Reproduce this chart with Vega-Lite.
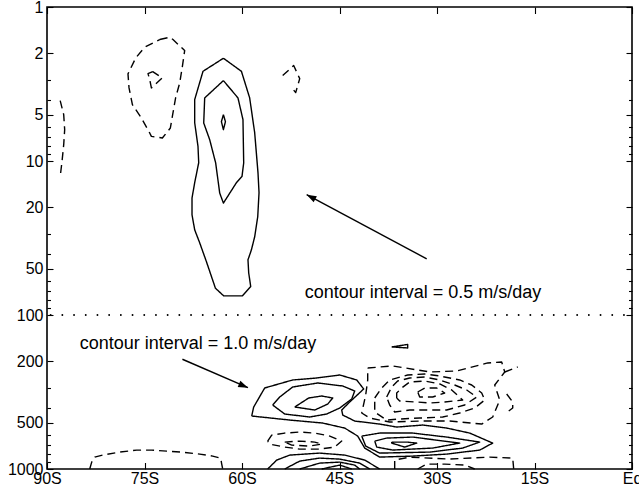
{
 "$schema": "https://vega.github.io/schema/vega-lite/v6.json",
 "width": 585, "height": 462,
 "autosize": {"type": "none"},
 "padding": {"left": 47, "top": 7, "right": 7, "bottom": 25},
 "background": "white",
 "config": {
  "view": {"stroke": "black", "strokeWidth": 1.6},
  "axis": {"grid": false, "domain": false, "tickColor": "black", "tickWidth": 1.1, "labelColor": "black", "labelFont": "Liberation Sans", "labelFontSize": 16}
 },
 "datasets": {
  "contours": [
   {"c":"A","s":"pos","i":0,"lat":-62.86,"p":2.152},{"c":"A","s":"pos","i":1,"lat":-60.09,"p":2.615},{"c":"A","s":"pos","i":2,"lat":-58.82,"p":3.894},{"c":"A","s":"pos","i":3,"lat":-58.05,"p":6.546},{"c":"A","s":"pos","i":4,"lat":-57.54,"p":11.91},{"c":"A","s":"pos","i":5,"lat":-57.38,"p":16.07},{"c":"A","s":"pos","i":6,"lat":-57.58,"p":23.03},{"c":"A","s":"pos","i":7,"lat":-58.05,"p":31.06},{"c":"A","s":"pos","i":8,"lat":-58.55,"p":37.73},{"c":"A","s":"pos","i":9,"lat":-59.08,"p":43.83},{"c":"A","s":"pos","i":10,"lat":-58.97,"p":53.24},{"c":"A","s":"pos","i":11,"lat":-58.66,"p":65.36},{"c":"A","s":"pos","i":12,"lat":-59.94,"p":75.12},{"c":"A","s":"pos","i":13,"lat":-62.82,"p":75.12},{"c":"A","s":"pos","i":14,"lat":-64.09,"p":66.95},{"c":"A","s":"pos","i":15,"lat":-65.48,"p":44.96},{"c":"A","s":"pos","i":16,"lat":-66.51,"p":33.98},{"c":"A","s":"pos","i":17,"lat":-67.28,"p":27.97},{"c":"A","s":"pos","i":18,"lat":-67.69,"p":22.35},{"c":"A","s":"pos","i":19,"lat":-67.69,"p":17.4},{"c":"A","s":"pos","i":20,"lat":-67.28,"p":13.84},{"c":"A","s":"pos","i":21,"lat":-66.66,"p":10.26},{"c":"A","s":"pos","i":22,"lat":-66.77,"p":8.038},{"c":"A","s":"pos","i":23,"lat":-67.28,"p":5.638},{"c":"A","s":"pos","i":24,"lat":-67.28,"p":3.995},{"c":"A","s":"pos","i":25,"lat":-66.0,"p":2.615},{"c":"A","s":"pos","i":26,"lat":-62.86,"p":2.152},
   {"c":"B","s":"pos","i":0,"lat":-62.86,"p":3.006},{"c":"B","s":"pos","i":1,"lat":-60.62,"p":3.894},{"c":"B","s":"pos","i":2,"lat":-59.85,"p":5.389},{"c":"B","s":"pos","i":3,"lat":-59.74,"p":10.3},{"c":"B","s":"pos","i":4,"lat":-60.0,"p":12.6},{"c":"B","s":"pos","i":5,"lat":-60.86,"p":13.84},{"c":"B","s":"pos","i":6,"lat":-62.86,"p":18.76},{"c":"B","s":"pos","i":7,"lat":-63.43,"p":16.15},{"c":"B","s":"pos","i":8,"lat":-64.05,"p":10.3},{"c":"B","s":"pos","i":9,"lat":-64.97,"p":7.27},{"c":"B","s":"pos","i":10,"lat":-65.89,"p":5.663},{"c":"B","s":"pos","i":11,"lat":-65.74,"p":3.894},{"c":"B","s":"pos","i":12,"lat":-62.86,"p":3.006},
   {"c":"C","s":"pos","i":0,"lat":-62.86,"p":5.0},{"c":"C","s":"pos","i":1,"lat":-62.55,"p":5.554},{"c":"C","s":"pos","i":2,"lat":-62.86,"p":6.259},{"c":"C","s":"pos","i":3,"lat":-63.17,"p":5.554},{"c":"C","s":"pos","i":4,"lat":-62.86,"p":5.0},
   {"c":"D","s":"neg","i":0,"lat":-72.66,"p":1.627},{"c":"D","s":"neg","i":1,"lat":-71.12,"p":1.571},{"c":"D","s":"neg","i":2,"lat":-70.62,"p":1.627},{"c":"D","s":"neg","i":3,"lat":-68.82,"p":1.918},{"c":"D","s":"neg","i":4,"lat":-69.17,"p":2.427},{"c":"D","s":"neg","i":5,"lat":-69.58,"p":3.111},{"c":"D","s":"neg","i":6,"lat":-70.2,"p":3.86},{"c":"D","s":"neg","i":7,"lat":-70.62,"p":4.874},{"c":"D","s":"neg","i":8,"lat":-71.02,"p":6.103},{"c":"D","s":"neg","i":9,"lat":-72.25,"p":7.088},{"c":"D","s":"neg","i":10,"lat":-73.94,"p":6.92},{"c":"D","s":"neg","i":11,"lat":-74.2,"p":6.575},{"c":"D","s":"neg","i":12,"lat":-75.48,"p":5.254},{"c":"D","s":"neg","i":13,"lat":-76.86,"p":4.305},{"c":"D","s":"neg","i":14,"lat":-77.38,"p":3.353},{"c":"D","s":"neg","i":15,"lat":-77.54,"p":2.719},{"c":"D","s":"neg","i":16,"lat":-76.35,"p":2.14},{"c":"D","s":"neg","i":17,"lat":-74.97,"p":1.825},{"c":"D","s":"neg","i":18,"lat":-72.66,"p":1.627},
   {"c":"D2","s":"neg","i":0,"lat":-73.74,"p":2.627},{"c":"D2","s":"neg","i":1,"lat":-74.46,"p":2.706},{"c":"D2","s":"neg","i":2,"lat":-74.2,"p":2.961},{"c":"D2","s":"neg","i":3,"lat":-73.94,"p":3.353},{"c":"D2","s":"neg","i":4,"lat":-73.12,"p":3.12},{"c":"D2","s":"neg","i":5,"lat":-72.25,"p":2.886},{"c":"D2","s":"neg","i":6,"lat":-73.74,"p":2.627},
   {"c":"E","s":"neg","i":0,"lat":-53.74,"p":2.789},{"c":"E","s":"neg","i":1,"lat":-52.05,"p":2.401},{"c":"E","s":"neg","i":2,"lat":-51.12,"p":2.917},{"c":"E","s":"neg","i":3,"lat":-51.74,"p":3.597},{"c":"E","s":"neg","i":4,"lat":-52.35,"p":3.338},
   {"c":"F","s":"neg","i":0,"lat":-87.97,"p":4.055},{"c":"F","s":"neg","i":1,"lat":-87.43,"p":5.0},{"c":"F","s":"neg","i":2,"lat":-87.28,"p":6.259},{"c":"F","s":"neg","i":3,"lat":-87.43,"p":7.836},{"c":"F","s":"neg","i":4,"lat":-87.66,"p":9.806},{"c":"F","s":"neg","i":5,"lat":-87.97,"p":12.65},
   {"c":"G1","s":"pos","i":0,"lat":-58.51,"p":452.9},{"c":"G1","s":"pos","i":1,"lat":-58.2,"p":395.8},{"c":"G1","s":"pos","i":2,"lat":-56.51,"p":297.8},{"c":"G1","s":"pos","i":3,"lat":-52.2,"p":264.2},{"c":"G1","s":"pos","i":4,"lat":-48.51,"p":256.5},{"c":"G1","s":"pos","i":5,"lat":-44.97,"p":245.2},{"c":"G1","s":"pos","i":6,"lat":-42.35,"p":264.2},{"c":"G1","s":"pos","i":7,"lat":-41.28,"p":302.3},{"c":"G1","s":"pos","i":8,"lat":-43.43,"p":367.3},{"c":"G1","s":"pos","i":9,"lat":-44.66,"p":414.0},{"c":"G1","s":"pos","i":10,"lat":-44.5,"p":446.2},{"c":"G1","s":"pos","i":11,"lat":-42.66,"p":488.2},{"c":"G1","s":"pos","i":12,"lat":-38.82,"p":510.7},{"c":"G1","s":"pos","i":13,"lat":-36.2,"p":534.2},{"c":"G1","s":"pos","i":14,"lat":-32.2,"p":518.4},{"c":"G1","s":"pos","i":15,"lat":-28.51,"p":542.2},{"c":"G1","s":"pos","i":16,"lat":-24.97,"p":584.4},{"c":"G1","s":"pos","i":17,"lat":-21.43,"p":678.7},{"c":"G1","s":"pos","i":18,"lat":-23.43,"p":753.6},{"c":"G1","s":"pos","i":19,"lat":-28.51,"p":800.2},{"c":"G1","s":"pos","i":20,"lat":-33.74,"p":824.5},{"c":"G1","s":"pos","i":21,"lat":-38.82,"p":836.9},{"c":"G1","s":"pos","i":22,"lat":-41.12,"p":731.4},{"c":"G1","s":"pos","i":23,"lat":-42.2,"p":611.2},{"c":"G1","s":"pos","i":24,"lat":-44.2,"p":542.2},{"c":"G1","s":"pos","i":25,"lat":-47.58,"p":503.1},{"c":"G1","s":"pos","i":26,"lat":-52.66,"p":481.0},{"c":"G1","s":"pos","i":27,"lat":-58.51,"p":452.9},
   {"c":"G2","s":"pos","i":0,"lat":-55.28,"p":384.2},{"c":"G2","s":"pos","i":1,"lat":-54.2,"p":340.8},{"c":"G2","s":"pos","i":2,"lat":-52.2,"p":293.4},{"c":"G2","s":"pos","i":3,"lat":-48.35,"p":276.4},{"c":"G2","s":"pos","i":4,"lat":-44.5,"p":289.1},{"c":"G2","s":"pos","i":5,"lat":-42.66,"p":311.5},{"c":"G2","s":"pos","i":6,"lat":-43.12,"p":351.1},{"c":"G2","s":"pos","i":7,"lat":-44.97,"p":401.8},{"c":"G2","s":"pos","i":8,"lat":-46.97,"p":439.5},{"c":"G2","s":"pos","i":9,"lat":-49.58,"p":459.7},{"c":"G2","s":"pos","i":10,"lat":-53.43,"p":439.5},{"c":"G2","s":"pos","i":11,"lat":-55.28,"p":384.2},
   {"c":"G3","s":"pos","i":0,"lat":-51.89,"p":395.8},{"c":"G3","s":"pos","i":1,"lat":-49.74,"p":345.9},{"c":"G3","s":"pos","i":2,"lat":-47.74,"p":335.7},{"c":"G3","s":"pos","i":3,"lat":-46.04,"p":345.9},{"c":"G3","s":"pos","i":4,"lat":-46.81,"p":378.5},{"c":"G3","s":"pos","i":5,"lat":-48.81,"p":414.0},{"c":"G3","s":"pos","i":6,"lat":-51.89,"p":395.8},
   {"c":"H2","s":"pos","i":0,"lat":-41.58,"p":611.2},{"c":"H2","s":"pos","i":1,"lat":-38.82,"p":584.4},{"c":"H2","s":"pos","i":2,"lat":-33.74,"p":584.4},{"c":"H2","s":"pos","i":3,"lat":-28.51,"p":620.5},{"c":"H2","s":"pos","i":4,"lat":-23.43,"p":668.6},{"c":"H2","s":"pos","i":5,"lat":-26.05,"p":731.4},{"c":"H2","s":"pos","i":6,"lat":-31.12,"p":776.6},{"c":"H2","s":"pos","i":7,"lat":-38.82,"p":788.3},{"c":"H2","s":"pos","i":8,"lat":-40.97,"p":709.8},{"c":"H2","s":"pos","i":9,"lat":-41.58,"p":611.2},
   {"c":"H3","s":"pos","i":0,"lat":-39.58,"p":658.7},{"c":"H3","s":"pos","i":1,"lat":-37.74,"p":629.9},{"c":"H3","s":"pos","i":2,"lat":-33.74,"p":620.5},{"c":"H3","s":"pos","i":3,"lat":-26.51,"p":678.7},{"c":"H3","s":"pos","i":4,"lat":-30.66,"p":731.4},{"c":"H3","s":"pos","i":5,"lat":-36.81,"p":753.6},{"c":"H3","s":"pos","i":6,"lat":-39.27,"p":720.6},{"c":"H3","s":"pos","i":7,"lat":-39.58,"p":658.7},
   {"c":"H4","s":"pos","i":0,"lat":-36.97,"p":668.6},{"c":"H4","s":"pos","i":1,"lat":-34.66,"p":668.6},{"c":"H4","s":"pos","i":2,"lat":-33.12,"p":678.7},{"c":"H4","s":"pos","i":3,"lat":-34.97,"p":720.6},{"c":"H4","s":"pos","i":4,"lat":-36.97,"p":678.7},{"c":"H4","s":"pos","i":5,"lat":-36.97,"p":668.6},
   {"c":"S1","s":"pos","i":0,"lat":-56.05,"p":1000},{"c":"S1","s":"pos","i":1,"lat":-54.66,"p":875.3},{"c":"S1","s":"pos","i":2,"lat":-52.66,"p":812.3},{"c":"S1","s":"pos","i":3,"lat":-48.05,"p":788.3},{"c":"S1","s":"pos","i":4,"lat":-44.2,"p":812.3},{"c":"S1","s":"pos","i":5,"lat":-41.12,"p":875.3},{"c":"S1","s":"pos","i":6,"lat":-38.82,"p":1000},
   {"c":"S2","s":"pos","i":0,"lat":-53.43,"p":1000},{"c":"S2","s":"pos","i":1,"lat":-51.12,"p":888.6},{"c":"S2","s":"pos","i":2,"lat":-48.05,"p":849.6},{"c":"S2","s":"pos","i":3,"lat":-44.97,"p":862.4},{"c":"S2","s":"pos","i":4,"lat":-41.89,"p":915.6},{"c":"S2","s":"pos","i":5,"lat":-40.35,"p":1000},
   {"c":"S3","s":"pos","i":0,"lat":-51.12,"p":1000},{"c":"S3","s":"pos","i":1,"lat":-48.05,"p":915.6},{"c":"S3","s":"pos","i":2,"lat":-44.97,"p":902.0},{"c":"S3","s":"pos","i":3,"lat":-42.66,"p":943.4},{"c":"S3","s":"pos","i":4,"lat":-41.89,"p":1000},
   {"c":"S4","s":"pos","i":0,"lat":-47.74,"p":1000},{"c":"S4","s":"pos","i":1,"lat":-44.97,"p":943.4},{"c":"S4","s":"pos","i":2,"lat":-43.12,"p":1000},
   {"c":"T","s":"pos","i":0,"lat":-36.97,"p":161.2},{"c":"T","s":"pos","i":1,"lat":-34.51,"p":155.3},{"c":"T","s":"pos","i":2,"lat":-34.51,"p":163.7},{"c":"T","s":"pos","i":3,"lat":-36.97,"p":161.2},
   {"c":"N1","s":"neg","i":0,"lat":-56.05,"p":658.7},{"c":"N1","s":"neg","i":1,"lat":-55.43,"p":602.2},{"c":"N1","s":"neg","i":2,"lat":-53.43,"p":584.4},{"c":"N1","s":"neg","i":3,"lat":-51.12,"p":575.7},{"c":"N1","s":"neg","i":4,"lat":-48.81,"p":584.4},{"c":"N1","s":"neg","i":5,"lat":-46.5,"p":611.2},{"c":"N1","s":"neg","i":6,"lat":-44.66,"p":658.7},{"c":"N1","s":"neg","i":7,"lat":-45.74,"p":720.6},{"c":"N1","s":"neg","i":8,"lat":-48.05,"p":742.5},{"c":"N1","s":"neg","i":9,"lat":-51.12,"p":742.5},{"c":"N1","s":"neg","i":10,"lat":-53.43,"p":720.6},{"c":"N1","s":"neg","i":11,"lat":-55.74,"p":688.9},{"c":"N1","s":"neg","i":12,"lat":-56.05,"p":658.7},
   {"c":"N1b","s":"neg","i":0,"lat":-53.43,"p":668.6},{"c":"N1b","s":"neg","i":1,"lat":-51.12,"p":658.7},{"c":"N1b","s":"neg","i":2,"lat":-48.81,"p":668.6},{"c":"N1b","s":"neg","i":3,"lat":-47.74,"p":688.9},{"c":"N1b","s":"neg","i":4,"lat":-49.58,"p":709.8},{"c":"N1b","s":"neg","i":5,"lat":-52.35,"p":699.3},{"c":"N1b","s":"neg","i":6,"lat":-53.43,"p":668.6},
   {"c":"N2a","s":"neg","i":0,"lat":-40.66,"p":220.8},{"c":"N2a","s":"neg","i":1,"lat":-36.81,"p":214.2},{"c":"N2a","s":"neg","i":2,"lat":-31.12,"p":234.4},{"c":"N2a","s":"neg","i":3,"lat":-26.97,"p":230.9},{"c":"N2a","s":"neg","i":4,"lat":-22.2,"p":204.8},{"c":"N2a","s":"neg","i":5,"lat":-20.05,"p":201.8},{"c":"N2a","s":"neg","i":6,"lat":-19.58,"p":234.4},{"c":"N2a","s":"neg","i":7,"lat":-21.12,"p":284.8},{"c":"N2a","s":"neg","i":8,"lat":-20.35,"p":356.5},{"c":"N2a","s":"neg","i":9,"lat":-21.43,"p":459.7},{"c":"N2a","s":"neg","i":10,"lat":-23.12,"p":510.7},{"c":"N2a","s":"neg","i":11,"lat":-28.05,"p":488.2},{"c":"N2a","s":"neg","i":12,"lat":-32.66,"p":488.2},{"c":"N2a","s":"neg","i":13,"lat":-37.28,"p":495.6},{"c":"N2a","s":"neg","i":14,"lat":-40.35,"p":466.7},{"c":"N2a","s":"neg","i":15,"lat":-41.58,"p":433.0},{"c":"N2a","s":"neg","i":16,"lat":-40.97,"p":330.7},{"c":"N2a","s":"neg","i":17,"lat":-40.66,"p":264.2},{"c":"N2a","s":"neg","i":18,"lat":-40.66,"p":220.8},
   {"c":"N2x","s":"neg","i":0,"lat":-19.58,"p":234.4},{"c":"N2x","s":"neg","i":1,"lat":-17.58,"p":217.5},
   {"c":"N2y","s":"neg","i":0,"lat":-19.28,"p":325.8},{"c":"N2y","s":"neg","i":1,"lat":-18.35,"p":367.3},{"c":"N2y","s":"neg","i":2,"lat":-18.35,"p":401.8},{"c":"N2y","s":"neg","i":3,"lat":-18.97,"p":420.2},
   {"c":"N2b","s":"neg","i":0,"lat":-39.58,"p":345.9},{"c":"N2b","s":"neg","i":1,"lat":-38.51,"p":297.8},{"c":"N2b","s":"neg","i":2,"lat":-37.28,"p":264.2},{"c":"N2b","s":"neg","i":3,"lat":-34.51,"p":245.2},{"c":"N2b","s":"neg","i":4,"lat":-31.89,"p":241.6},{"c":"N2b","s":"neg","i":5,"lat":-29.58,"p":248.9},{"c":"N2b","s":"neg","i":6,"lat":-26.51,"p":264.2},{"c":"N2b","s":"neg","i":7,"lat":-24.66,"p":284.8},{"c":"N2b","s":"neg","i":8,"lat":-23.12,"p":321.0},{"c":"N2b","s":"neg","i":9,"lat":-22.66,"p":356.5},{"c":"N2b","s":"neg","i":10,"lat":-24.2,"p":401.8},{"c":"N2b","s":"neg","i":11,"lat":-26.51,"p":433.0},{"c":"N2b","s":"neg","i":12,"lat":-29.12,"p":459.7},{"c":"N2b","s":"neg","i":13,"lat":-32.66,"p":466.7},{"c":"N2b","s":"neg","i":14,"lat":-35.74,"p":473.7},{"c":"N2b","s":"neg","i":15,"lat":-37.74,"p":481.0},{"c":"N2b","s":"neg","i":16,"lat":-39.58,"p":426.6},{"c":"N2b","s":"neg","i":17,"lat":-39.58,"p":345.9},
   {"c":"N2c","s":"neg","i":0,"lat":-37.74,"p":340.8},{"c":"N2c","s":"neg","i":1,"lat":-36.97,"p":293.4},{"c":"N2c","s":"neg","i":2,"lat":-36.05,"p":268.2},{"c":"N2c","s":"neg","i":3,"lat":-34.2,"p":256.5},{"c":"N2c","s":"neg","i":4,"lat":-31.89,"p":252.7},{"c":"N2c","s":"neg","i":5,"lat":-29.58,"p":264.2},{"c":"N2c","s":"neg","i":6,"lat":-27.28,"p":284.8},{"c":"N2c","s":"neg","i":7,"lat":-25.43,"p":306.9},{"c":"N2c","s":"neg","i":8,"lat":-23.89,"p":340.8},{"c":"N2c","s":"neg","i":9,"lat":-25.74,"p":384.2},{"c":"N2c","s":"neg","i":10,"lat":-28.51,"p":414.0},{"c":"N2c","s":"neg","i":11,"lat":-31.58,"p":414.0},{"c":"N2c","s":"neg","i":12,"lat":-34.2,"p":414.0},{"c":"N2c","s":"neg","i":13,"lat":-36.51,"p":426.6},{"c":"N2c","s":"neg","i":14,"lat":-37.28,"p":384.2},{"c":"N2c","s":"neg","i":15,"lat":-37.74,"p":340.8},
   {"c":"N2d","s":"neg","i":0,"lat":-36.2,"p":345.9},{"c":"N2d","s":"neg","i":1,"lat":-36.2,"p":321.0},{"c":"N2d","s":"neg","i":2,"lat":-35.43,"p":297.8},{"c":"N2d","s":"neg","i":3,"lat":-34.2,"p":272.3},{"c":"N2d","s":"neg","i":4,"lat":-31.89,"p":268.2},{"c":"N2d","s":"neg","i":5,"lat":-29.58,"p":280.5},{"c":"N2d","s":"neg","i":6,"lat":-27.74,"p":306.9},{"c":"N2d","s":"neg","i":7,"lat":-26.05,"p":356.5},{"c":"N2d","s":"neg","i":8,"lat":-28.81,"p":367.3},{"c":"N2d","s":"neg","i":9,"lat":-31.12,"p":372.8},{"c":"N2d","s":"neg","i":10,"lat":-33.12,"p":367.3},{"c":"N2d","s":"neg","i":11,"lat":-35.74,"p":361.8},{"c":"N2d","s":"neg","i":12,"lat":-36.2,"p":345.9},
   {"c":"N2e","s":"neg","i":0,"lat":-32.97,"p":316.2},{"c":"N2e","s":"neg","i":1,"lat":-31.89,"p":297.8},{"c":"N2e","s":"neg","i":2,"lat":-30.05,"p":297.8},{"c":"N2e","s":"neg","i":3,"lat":-28.81,"p":321.0},{"c":"N2e","s":"neg","i":4,"lat":-30.66,"p":340.8},{"c":"N2e","s":"neg","i":5,"lat":-32.66,"p":340.8},{"c":"N2e","s":"neg","i":6,"lat":-32.97,"p":316.2},
   {"c":"N3","s":"neg","i":0,"lat":-36.51,"p":1000},{"c":"N3","s":"neg","i":1,"lat":-36.51,"p":875.3},{"c":"N3","s":"neg","i":2,"lat":-34.2,"p":836.9},{"c":"N3","s":"neg","i":3,"lat":-28.05,"p":862.4},{"c":"N3","s":"neg","i":4,"lat":-21.89,"p":836.9},{"c":"N3","s":"neg","i":5,"lat":-18.35,"p":849.6},{"c":"N3","s":"neg","i":6,"lat":-18.2,"p":1000},
   {"c":"N3b","s":"neg","i":0,"lat":-32.97,"p":1000},{"c":"N3b","s":"neg","i":1,"lat":-31.58,"p":929.4},{"c":"N3b","s":"neg","i":2,"lat":-28.81,"p":929.4},{"c":"N3b","s":"neg","i":3,"lat":-25.74,"p":943.4},{"c":"N3b","s":"neg","i":4,"lat":-24.2,"p":1000},
   {"c":"N4","s":"neg","i":0,"lat":-83.43,"p":1000},{"c":"N4","s":"neg","i":1,"lat":-83.12,"p":902.0},{"c":"N4","s":"neg","i":2,"lat":-82.66,"p":836.9},{"c":"N4","s":"neg","i":3,"lat":-81.43,"p":812.3},{"c":"N4","s":"neg","i":4,"lat":-78.82,"p":776.6},{"c":"N4","s":"neg","i":5,"lat":-76.2,"p":753.6},{"c":"N4","s":"neg","i":6,"lat":-73.89,"p":753.6},{"c":"N4","s":"neg","i":7,"lat":-71.58,"p":765.1},{"c":"N4","s":"neg","i":8,"lat":-69.28,"p":776.6},{"c":"N4","s":"neg","i":9,"lat":-66.51,"p":800.2},{"c":"N4","s":"neg","i":10,"lat":-64.51,"p":824.5},{"c":"N4","s":"neg","i":11,"lat":-63.28,"p":849.6},{"c":"N4","s":"neg","i":12,"lat":-63.12,"p":929.4},{"c":"N4","s":"neg","i":13,"lat":-62.97,"p":1000}
  ],
  "notes": [
   {"t":"contour interval = 0.5 m/s/day","lat":-50.35,"p":77.1},
   {"t":"contour interval = 1.0 m/s/day","lat":-84.97,"p":167.4}
  ],
  "arrows": [
   {"a":1,"i":0,"lat":-31.58,"p":43.18},{"a":1,"i":1,"lat":-50.05,"p":16.56},
   {"a":2,"i":0,"lat":-69.17,"p":193.8},{"a":2,"i":1,"lat":-59.08,"p":296.5}
  ]
 },
 "resolve": {"axis": {"x": "independent", "y": "independent"}},
 "layer": [
  {
   "data": {"name": "contours"},
   "mark": {"type": "line", "stroke": "black", "strokeWidth": 1.4, "strokeJoin": "round"},
   "encoding": {
    "x": {"field": "lat", "type": "quantitative", "title": null, "scale": {"domain": [-90, 0], "nice": false, "zero": false},
          "axis": {"orient": "bottom", "values": [-90, -75, -60, -45, -30, -15, 0], "labelExpr": "datum.value == 0 ? 'Eq' : (-datum.value) + 'S'", "tickSize": -6.5, "labelPadding": 8, "labelFlush": false, "labelOverlap": false}},
    "y": {"field": "p", "type": "quantitative", "title": null, "scale": {"type": "log", "domain": [1, 1000], "reverse": true, "nice": false},
          "axis": {"orient": "left", "values": [1, 2, 5, 10, 20, 50, 100, 200, 500, 1000], "format": "d", "tickSize": -6, "labelPadding": 10, "labelOverlap": false}},
    "detail": {"field": "c", "type": "nominal"},
    "order": {"field": "i", "type": "quantitative"},
    "strokeDash": {"field": "s", "type": "nominal", "scale": {"domain": ["pos", "neg"], "range": [[1, 0], [8, 5]]}, "legend": null}
   }
  },
  {
   "data": {"values": [{"p": 100}]},
   "mark": {"type": "rule", "color": "black", "strokeWidth": 1.8, "strokeCap": "round", "strokeDash": [0.1, 11.6], "strokeDashOffset": 3.7},
   "encoding": {
    "y": {"field": "p", "type": "quantitative", "title": null, "scale": {"type": "log", "domain": [1, 1000], "reverse": true, "nice": false},
          "axis": {"orient": "left", "values": [3, 4, 6, 7, 8, 9, 30, 40, 60, 70, 80, 90, 300, 400, 600, 700, 800, 900], "labels": false, "tickSize": -3.5}}
   }
  },
  {
   "data": {"name": "notes"},
   "mark": {"type": "text", "align": "left", "baseline": "alphabetic", "font": "Liberation Sans", "fontSize": 18, "color": "black"},
   "encoding": {
    "x": {"field": "lat", "type": "quantitative", "title": null, "scale": {"domain": [-90, 0], "nice": false, "zero": false},
          "axis": {"orient": "top", "values": [-90, -75, -60, -45, -30, -15, 0], "labels": false, "tickSize": -6.5}},
    "y": {"field": "p", "type": "quantitative", "title": null, "scale": {"type": "log", "domain": [1, 1000], "reverse": true, "nice": false},
          "axis": {"orient": "right", "values": [3, 4, 6, 7, 8, 9, 30, 40, 60, 70, 80, 90, 300, 400, 600, 700, 800, 900], "labels": false, "tickSize": -3.5}},
    "text": {"field": "t", "type": "nominal"}
   }
  },
  {
   "data": {"name": "arrows"},
   "mark": {"type": "line", "color": "black", "strokeWidth": 1.4},
   "encoding": {
    "x": {"field": "lat", "type": "quantitative", "title": null, "scale": {"domain": [-90, 0], "nice": false, "zero": false}, "axis": null},
    "y": {"field": "p", "type": "quantitative", "title": null, "scale": {"type": "log", "domain": [1, 1000], "reverse": true, "nice": false},
          "axis": {"orient": "right", "values": [1, 2, 5, 10, 20, 50, 100, 200, 500, 1000], "labels": false, "tickSize": -6}},
    "detail": {"field": "a", "type": "nominal"},
    "order": {"field": "i", "type": "quantitative"}
   }
  },
  {
   "data": {"values": [{"lat": -50.05, "p": 16.56}]},
   "mark": {"type": "point", "shape": "M0,0L0.35,1L-0.35,1Z", "size": 380, "angle": 298, "filled": true, "color": "black", "opacity": 1, "strokeWidth": 0},
   "encoding": {
    "x": {"field": "lat", "type": "quantitative", "title": null, "scale": {"domain": [-90, 0], "nice": false, "zero": false}, "axis": null},
    "y": {"field": "p", "type": "quantitative", "title": null, "scale": {"type": "log", "domain": [1, 1000], "reverse": true, "nice": false}, "axis": null}
   }
  },
  {
   "data": {"values": [{"lat": -59.08, "p": 296.5}]},
   "mark": {"type": "point", "shape": "M0,0L0.35,1L-0.35,1Z", "size": 380, "angle": 113.4, "filled": true, "color": "black", "opacity": 1, "strokeWidth": 0},
   "encoding": {
    "x": {"field": "lat", "type": "quantitative", "title": null, "scale": {"domain": [-90, 0], "nice": false, "zero": false}, "axis": null},
    "y": {"field": "p", "type": "quantitative", "title": null, "scale": {"type": "log", "domain": [1, 1000], "reverse": true, "nice": false}, "axis": null}
   }
  }
 ]
}
